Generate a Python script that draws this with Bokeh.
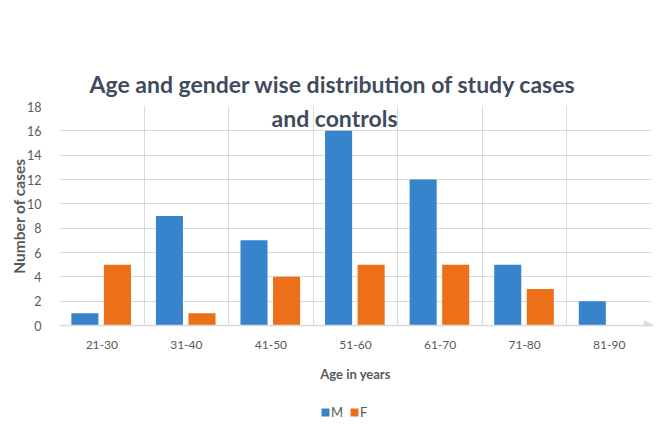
from bokeh.plotting import figure
from bokeh.layouts import column
from bokeh.models import (ColumnDataSource, FixedTicker, CustomJSTickFormatter, Legend,
                          LegendItem, Label, Arrow, NormalHead)
from bokeh.transform import dodge
from bokeh.embed import file_html
from bokeh.resources import INLINE

# ---- data ----
categories = ["21-30", "31-40", "41-50", "51-60", "61-70", "71-80", "81-90"]
male = [1, 9, 7, 16, 12, 5, 2]
female = [5, 1, 4, 5, 5, 3, 0]
y_ticks = [0, 2, 4, 6, 8, 10, 12, 14, 16, 18]
series_names = ["M", "F"]

title_line1 = "Age and gender wise distribution of study cases"
title_line2 = "and controls"

pos = [i + 0.5 for i in range(len(categories))]
src = ColumnDataSource(dict(x=pos, cat=categories, m=male, f=female))

FONT = "Lato"
GRID = "#d9d9d9"
TXT = "#595959"
TITLE_C = "#404c5e"
M_COL = "#3784cd"
F_COL = "#ec7019"

p = figure(width=657, height=392, x_range=(0, len(categories)), y_range=(0, y_ticks[-1]),
           output_backend="svg", toolbar_location=None,
           min_border_left=59, min_border_right=6, min_border_top=106, min_border_bottom=67)
p.outline_line_color = None

p.vbar(x=dodge("x", -0.2, range=p.x_range), top="m", width=0.32, source=src,
       fill_color=M_COL, line_color=None)
p.vbar(x=dodge("x", 0.185, range=p.x_range), top="f", width=0.32, source=src,
       fill_color=F_COL, line_color=None)

# title (line 1 above frame, line 2 overlapping the frame)
p.title.text = title_line1
p.title.align = "left"
p.title.offset = 30
p.title.standoff = 18
p.title.text_font = FONT
p.title.text_font_size = "23px"
p.title.text_font_style = "bold"
p.title.text_color = TITLE_C
p.add_layout(Label(x=275, y=208, x_units="screen", y_units="screen", text=title_line2,
                   text_align="center", text_baseline="middle",
                   text_font=FONT, text_font_size="23px", text_font_style="bold",
                   text_color=TITLE_C))

# axes
p.xaxis.ticker = FixedTicker(ticks=pos)
p.xaxis.formatter = CustomJSTickFormatter(args=dict(labels=categories),
                                          code="return labels[Math.floor(tick)];")
p.xaxis.axis_line_color = GRID
p.xaxis.axis_line_width = 1.5
p.xaxis.major_tick_line_color = None
p.xaxis.minor_tick_line_color = None
p.xaxis.major_label_standoff = 9
p.xaxis.major_label_text_font = FONT
p.xaxis.major_label_text_font_size = "12px"
p.xaxis.major_label_text_color = TXT
p.xaxis.axis_label = "Age in years"
p.xaxis.axis_label_text_font = FONT
p.xaxis.axis_label_text_font_size = "13px"
p.xaxis.axis_label_text_font_style = "bold"
p.xaxis.axis_label_text_color = TXT
p.xaxis.axis_label_standoff = 14

p.yaxis.ticker = FixedTicker(ticks=y_ticks)
p.yaxis.axis_line_color = None
p.yaxis.major_tick_line_color = None
p.yaxis.minor_tick_line_color = None
p.yaxis.major_label_standoff = 12
p.yaxis.major_label_text_font = FONT
p.yaxis.major_label_text_font_size = "12.5px"
p.yaxis.major_label_text_color = TXT
p.yaxis.axis_label = "Number of cases"
p.yaxis.axis_label_text_font = FONT
p.yaxis.axis_label_text_font_size = "15.5px"
p.yaxis.axis_label_text_font_style = "bold"
p.yaxis.axis_label_text_color = TXT
p.yaxis.axis_label_standoff = -4

# grids
p.xgrid.ticker = FixedTicker(ticks=list(range(len(categories) + 1)))
p.xgrid.grid_line_color = GRID
p.ygrid.ticker = FixedTicker(ticks=y_ticks)
p.ygrid.grid_line_color = GRID

# axis arrow
p.add_layout(Arrow(end=NormalHead(size=9, fill_color=GRID, line_color=GRID),
                   x_start=6.9, y_start=0, x_end=7.02, y_end=0,
                   line_color=GRID, line_width=1.5))

# ---- legend strip below the chart ----
lf = figure(width=657, height=40, x_range=(0, 1), y_range=(0, 1),
            x_axis_type=None, y_axis_type=None, output_backend="svg",
            toolbar_location=None, min_border=0)
lf.outline_line_color = None
lsrc = ColumnDataSource(dict(x=pos, m=male, f=female))
rm = lf.vbar(x="x", top=0, bottom=0, width=0.1, source=lsrc, fill_color=M_COL, line_color=None)
rf = lf.vbar(x="x", top=0, bottom=0, width=0.1, source=lsrc, fill_color=F_COL, line_color=None)
legend = Legend(items=[LegendItem(label=series_names[0], renderers=[rm]),
                       LegendItem(label=series_names[1], renderers=[rf])],
                location=(261, 12), orientation="horizontal",
                border_line_color=None, background_fill_alpha=0,
                glyph_width=10, glyph_height=10, label_height=10, label_width=11,
                label_text_font=FONT, label_text_font_size="13px", label_text_color=TXT,
                padding=0, margin=0, spacing=6, label_standoff=1)
lf.add_layout(legend, "center")

layout = column(p, lf, spacing=0)
open("out.html", "w").write(file_html(layout, INLINE))
